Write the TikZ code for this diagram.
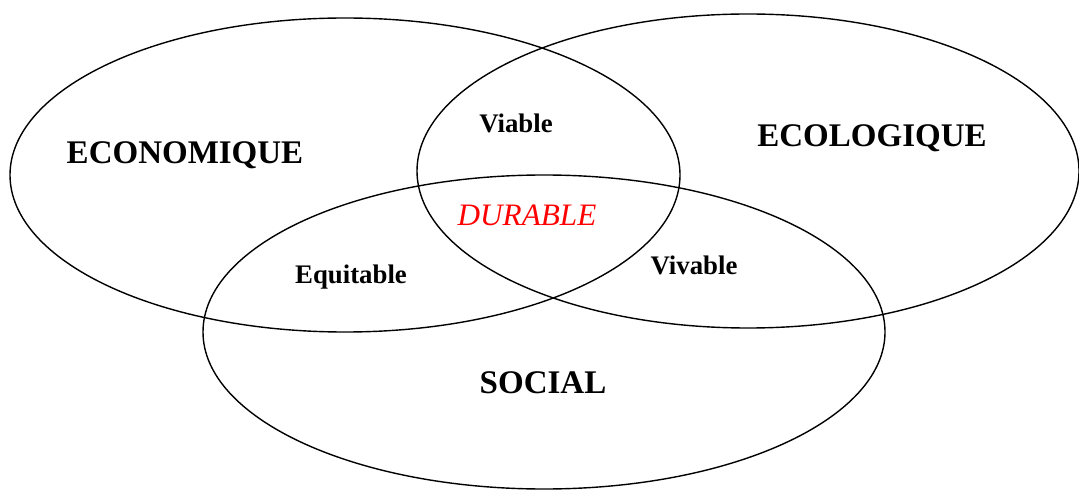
\documentclass[tikz,border=0pt]{standalone}
\usepackage{fontspec}
\setmainfont{Liberation Serif}

\newcommand*\pillarsize{16.5}
\newcommand*\blendsize{13.4}
\tikzset{
    sphere/.style={draw, line width=0.7pt},
    pillar/.style={anchor=base, inner sep=0pt,
        font=\fontsize{\pillarsize}{18}\selectfont\bfseries},
    blend/.style={anchor=base, inner sep=0pt,
        font=\fontsize{\blendsize}{15}\selectfont\bfseries},
    core/.style={anchor=base, inner sep=0pt, text=red,
        font=\fontsize{15.6}{17}\selectfont\itshape}
}

\begin{document}
\begin{tikzpicture}[x=0.5pt,y=-0.5pt]
    \useasboundingbox (0,0) rectangle (1079,491);

    % The three spheres.
    \draw[sphere] (345,175) ellipse [x radius=335, y radius=157];
    \draw[sphere] (748,171) ellipse [x radius=331, y radius=157];
    \draw[sphere] (544,332) ellipse [x radius=341, y radius=157];

    % Names of the pillars.
    \node[pillar] (economique) at (185,164) {ECONOMIQUE};
    \node[pillar] (ecologique) at (872,147) {ECOLOGIQUE};
    \node[pillar] (social) at (543,393) {SOCIAL};

    % Where two of them meet.
    \node[blend] (viable) at (516,133) {Viable};
    \node[blend] (equitable) at (351,284) {Equitable};
    \node[blend] (vivable) at (694,275) {Vivable};

    % Where all three meet.
    \node[core] (durable) at (527,226) {DURABLE};

\end{tikzpicture}
\end{document}
